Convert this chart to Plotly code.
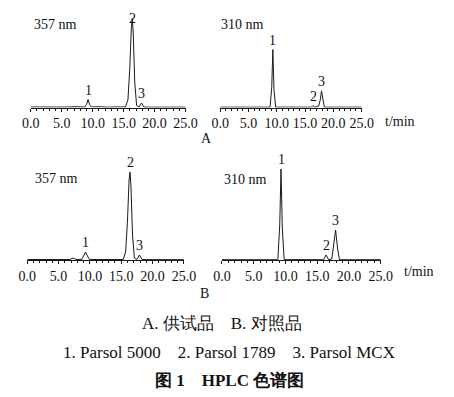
import plotly.graph_objects as go

# ---------------- data ----------------
# A: sample (供试品), 357 nm
a357_t = [0, 2, 4, 6, 7, 8.7, 9.0, 9.26, 9.5, 9.8, 11, 12.5, 14, 15.3, 15.7, 16.0, 16.25, 16.4, 16.55, 16.8, 17.1, 17.5, 17.9, 18.3, 19, 21, 23, 25]
a357_y = [0.5, 0.3, 0.6, 0.4, 0.8, 0.5, 3, 8, 3, 0.5, 0.8, 0.3, 0.6, 0.5, 8, 40, 80, 89, 75, 25, 2, 0.5, 4.5, 0.5, 0.3, 0.4, 0.2, 0.3]
# A: sample, 310 nm
a310_t = [0, 3, 6, 8.8, 9.1, 9.3, 9.5, 9.8, 12, 15, 16.1, 16.4, 16.7, 17.4, 17.7, 17.9, 18.1, 18.4, 21, 25]
a310_y = [0.3, 0.2, 0.3, 0.3, 20, 58, 18, 0.3, 0.4, 0.3, 0.3, 2, 0.3, 1.5, 8, 16.6, 8, 0.3, 0.3, 0.3]
# B: reference (对照品), 357 nm
b357_t = [0, 2, 4, 6.8, 7.3, 7.8, 8.7, 9.0, 9.3, 9.6, 9.9, 11, 12.5, 14, 15.3, 15.7, 16.0, 16.25, 16.4, 16.55, 16.8, 17.1, 17.5, 17.9, 18.3, 19, 21, 23, 25]
b357_y = [0.5, 0.4, 0.6, 0.5, 2, 0.5, 0.6, 4, 8, 4, 0.6, 0.5, 0.3, 0.6, 0.5, 8, 40, 80, 88, 74, 25, 2, 0.6, 5, 0.6, 0.4, 0.3, 0.3, 0.3]
# B: reference, 310 nm
b310_t = [0, 3, 6, 8.8, 9.1, 9.3, 9.5, 9.8, 12, 15, 16.0, 16.4, 16.8, 17.3, 17.6, 17.9, 18.2, 18.5, 21, 25]
b310_y = [0.3, 0.2, 0.3, 0.3, 35, 91, 32, 0.3, 0.4, 0.3, 0.3, 5, 0.3, 1, 14, 30, 12, 0.3, 0.3, 0.3]

peak_rt = [9.3, 16.4, 17.9]
peak_names = ["1", "2", "3"]
a357_peak_h = [8, 89, 4.5]
a310_peak_h = [58, 2, 16.6]
b357_peak_h = [8, 88, 5]
b310_peak_h = [91, 5, 30]

x_ticks = [0, 5, 10, 15, 20, 25]
wavelength_labels = ["357 nm", "310 nm"]
panel_labels = ["A", "B"]
caption_1 = "A. 供试品\u00a0\u00a0\u00a0\u00a0B. 对照品"
caption_2 = "1. Parsol 5000\u00a0\u00a0\u00a0\u00a02. Parsol 1789\u00a0\u00a0\u00a0\u00a03. Parsol MCX"
caption_3 = "<b>图 1\u00a0\u00a0\u00a0\u00a0HPLC 色谱图</b>"

# ---------------- layout helpers ----------------
# the page body has an 8 px default margin: size the figure so it fits the
# 454x397 window exactly and convert window pixel positions to paper fractions
PAGE_MARGIN = 8
W, H = 454 - 2 * PAGE_MARGIN, 397 - 2 * PAGE_MARGIN
def px(x):
    return (x - PAGE_MARGIN) / W
def py(y):
    return 1 - (y - PAGE_MARGIN) / H

SERIF = "Liberation Serif"
LINE = "#1a1a1a"
FS = 14
PANEL_H = 99   # pixels of plot height above each baseline (1 y-unit per pixel)
LABEL_H = 17   # approx. pixel height of a peak-label box

fig = go.Figure()

panels = [
    # (t, y, peak heights, axis id, x0px, x1px, baseline px)
    (a357_t, a357_y, a357_peak_h, "", 22.5, 185.0, 107.5),
    (a310_t, a310_y, a310_peak_h, "2", 221.5, 370.0, 107.5),
    (b357_t, b357_y, b357_peak_h, "3", 18.8, 183.3, 260.0),
    (b310_t, b310_y, b310_peak_h, "4", 223.3, 390.0, 260.0),
]

annotations = []
for t, y, ph, ax, x0, x1, yb in panels:
    fig.add_trace(go.Scatter(x=t, y=y, mode="lines", xaxis="x" + ax, yaxis="y" + ax,
                             line=dict(color=LINE, width=1), showlegend=False, hoverinfo="skip",
                             cliponaxis=False))
    xa = dict(domain=[px(x0), px(x1)], range=[0, 25], anchor="y" + ax,
              showline=True, linecolor=LINE, linewidth=1, showgrid=False, zeroline=False,
              tickvals=x_ticks, tickformat=".1f", ticks="outside", ticklen=3, tickwidth=1,
              tickcolor=LINE,
              minor=dict(dtick=1, ticks="outside", ticklen=2, tickcolor=LINE, showgrid=False),
              tickfont=dict(family=SERIF, size=FS, color="#111"), fixedrange=True)
    ya = dict(domain=[py(yb), py(yb - PANEL_H)], range=[0, PANEL_H], anchor="x" + ax,
              visible=False, fixedrange=True)
    fig.update_layout(**{"xaxis" + ax: xa, "yaxis" + ax: ya})
    room = yb - PAGE_MARGIN  # y-units available above the baseline inside the figure
    for rt, h, name in zip(peak_rt, ph, peak_names):
        if h + LABEL_H > room:
            ann_y, anchor = min(room, PANEL_H), "top"
        else:
            ann_y, anchor = h, "bottom"
        annotations.append(dict(x=rt, y=ann_y, xref="x" + ax, yref="y" + ax, text=name,
                                showarrow=False, yanchor=anchor, yshift=0,
                                font=dict(family=SERIF, size=FS, color="#111")))

def text(x, y, s, size=FS, xanchor="center"):
    annotations.append(dict(x=px(x), y=py(y), xref="paper", yref="paper", text=s,
                            showarrow=False, xanchor=xanchor, yanchor="middle",
                            font=dict(family=SERIF, size=size, color="#111")))

text(24, 24, wavelength_labels[0], xanchor="left")
text(220, 24, wavelength_labels[1], xanchor="left")
text(25, 178, wavelength_labels[0], xanchor="left")
text(223, 180, wavelength_labels[1], xanchor="left")
text(207, 138, panel_labels[0])
text(205, 293, panel_labels[1])
text(410, 121, "t/min")
text(430, 271, "t/min")
text(223, 323, caption_1, size=17)
text(231, 352, caption_2, size=17)
text(231, 380, caption_3, size=17)

fig.update_layout(width=W, height=H, margin=dict(l=0, r=0, t=0, b=0),
                  paper_bgcolor="white", plot_bgcolor="white", annotations=annotations)

fig.write_html("out.html")
